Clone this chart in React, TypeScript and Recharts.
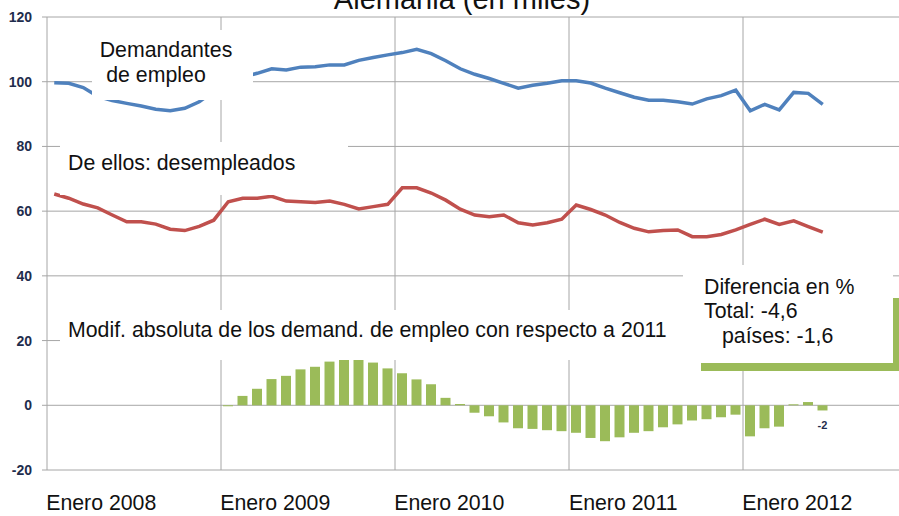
import {
  ComposedChart,
  Bar,
  Line,
  XAxis,
  YAxis,
  CartesianGrid,
  ReferenceLine,
  LabelList,
} from "recharts";

const anios = ["2008", "2009", "2010", "2011", "2012"];
const numMeses = ["01", "02", "03", "04", "05", "06", "07", "08", "09", "10", "11", "12"];

// Demandantes de empleo (en miles), ene 2008 - jun 2012
const demandantes = [
  99.7, 99.5, 98.2, 95.5, 94.2, 93.3, 92.5, 91.5, 91.0, 91.8,
  93.8, 97.0, 100.0, 101.5, 102.6, 104.0, 103.6, 104.5, 104.6, 105.2,
  105.2, 106.6, 107.5, 108.3, 109.0, 110.0, 108.7, 106.5, 104.0, 102.3,
  101.0, 99.5, 98.0, 98.9, 99.5, 100.3, 100.3, 99.6, 98.0, 96.6,
  95.2, 94.3, 94.3, 93.8, 93.1, 94.7, 95.7, 97.4, 91.0, 93.0,
  91.3, 96.7, 96.4, 93.0,
];

// De ellos: desempleados
const desempleados = [
  65.3, 64.0, 62.2, 61.0, 58.8, 56.7, 56.7, 56.0, 54.4, 54.0,
  55.3, 57.2, 62.9, 64.0, 64.0, 64.6, 63.1, 62.9, 62.7, 63.1,
  62.1, 60.7, 61.4, 62.1, 67.2, 67.2, 65.6, 63.4, 60.6, 58.8,
  58.3, 58.8, 56.4, 55.7, 56.4, 57.5, 61.9, 60.5, 58.8, 56.5,
  54.7, 53.6, 54.0, 54.2, 52.1, 52.1, 52.8, 54.2, 55.9, 57.5,
  55.9, 57.0, 55.2, 53.5,
];

// Modif. absoluta respecto al año anterior (desde ene 2009)
const modificacion: (number | null)[] = [
  null, null, null, null, null, null, null, null, null, null, null, null,
  -0.3, 2.9, 5.1, 8.1, 9.1, 11.1, 11.9, 13.5, 14.0, 14.2,
  13.2, 11.4, 9.9, 8.0, 6.5, 2.3, 0.4, -2.3, -3.4, -5.3,
  -7.1, -7.3, -7.7, -8.0, -8.5, -10.1, -11.1, -9.9, -8.5, -8.0,
  -6.8, -5.9, -4.7, -4.3, -3.7, -2.9, -9.6, -7.1, -6.6, 0.3,
  1.0, -1.6,
];

const barrasConEtiqueta = ["2012-06"];
const ticksY = [-20, 0, 20, 40, 60, 80, 100, 120];

const meses = anios.flatMap((a) => numMeses.map((m) => `${a}-${m}`));
const eneros = anios.map((a) => `${a}-01`);

const data = meses.map((mes, i) => ({
  mes,
  demandantes: demandantes[i] ?? null,
  desempleados: desempleados[i] ?? null,
  modificacion: modificacion[i] ?? null,
  etiqueta:
    barrasConEtiqueta.includes(mes) && modificacion[i] != null
      ? Math.round(modificacion[i] as number)
      : null,
}));

const FONT = '"Liberation Sans", Arial, sans-serif';
const GRID = "#a6a6a6";
const VERDE = "#9bbb59";
const TXT = 21.3;

const EneroTick = (props: any) => {
  const { x, payload } = props;
  return (
    <text x={x + 47} y={510} textAnchor="middle" fontSize={TXT} fill="#111" fontFamily={FONT}>
      {`Enero ${String(payload.value).slice(0, 4)}`}
    </text>
  );
};

const EtiquetaBarra = (props: any) => {
  const { x, y, width, height, value } = props;
  if (value == null) return null;
  const fondo = Math.max(y, y + height);
  return (
    <text
      x={x + width / 2}
      y={fondo + 19}
      textAnchor="middle"
      fontSize={11}
      fontWeight="bold"
      fill="#1f2d4d"
      fontFamily={FONT}
    >
      {value}
    </text>
  );
};

export default function App() {
  return (
    <div
      style={{
        position: "absolute",
        left: 0,
        top: 0,
        width: 899,
        height: 516,
        overflow: "hidden",
        background: "#fff",
        fontFamily: FONT,
      }}
    >
      <ComposedChart
        width={917}
        height={516}
        data={data}
        margin={{ top: 17, right: 0, left: 0, bottom: 0 }}
      >
        <CartesianGrid horizontal vertical={false} stroke={GRID} />
        <XAxis
          dataKey="mes"
          ticks={eneros}
          interval={0}
          height={46}
          axisLine={false}
          tickLine={false}
          tick={<EneroTick />}
        />
        <YAxis
          width={47}
          domain={[-20, 120]}
          ticks={ticksY}
          interval={0}
          axisLine={{ stroke: GRID }}
          tickLine={{ stroke: GRID }}
          tickSize={5}
          tickMargin={10}
          tick={{ fontSize: 14, fontWeight: "bold", fill: "#1f2d4d", fontFamily: FONT }}
        />
        {eneros.slice(1).map((m) => (
          <ReferenceLine key={m} x={m} position="start" stroke={GRID} />
        ))}
        <Bar dataKey="modificacion" fill={VERDE} barSize={10} isAnimationActive={false}>
          <LabelList dataKey="etiqueta" content={<EtiquetaBarra />} />
        </Bar>
        <Line
          type="linear"
          dataKey="demandantes"
          stroke="#4f81bd"
          strokeWidth={3.5}
          dot={false}
          isAnimationActive={false}
        />
        <Line
          type="linear"
          dataKey="desempleados"
          stroke="#c0504d"
          strokeWidth={3.5}
          dot={false}
          isAnimationActive={false}
        />
      </ComposedChart>

      <svg
        width={899}
        height={516}
        style={{ position: "absolute", left: 0, top: 0, pointerEvents: "none" }}
        fontFamily={FONT}
      >
        <text x={462} y={9} textAnchor="middle" fontSize={29} fill="#111">
          Alemania (en miles)
        </text>

        <rect x={92} y={30} width={161} height={70} fill="#fff" />
        <text x={166} y={57} textAnchor="middle" fontSize={TXT} fill="#111">
          Demandantes
        </text>
        <text x={156} y={82} textAnchor="middle" fontSize={TXT} fill="#111">
          de empleo
        </text>

        <rect x={60} y={142} width={288} height={53} fill="#fff" />
        <text x={68} y={170} fontSize={TXT} fill="#111">
          De ellos: desempleados
        </text>

        <rect x={60} y={310} width={625} height={50} fill="#fff" />
        <text x={68} y={337} fontSize={TXT} fill="#111">
          Modif. absoluta de los demand. de empleo con respecto a 2011
        </text>

        <rect x={683} y={265} width={210} height={98} fill="#fff" />
        <text x={704} y={294} fontSize={TXT} fill="#111">
          Diferencia en %
        </text>
        <text x={704} y={318} fontSize={TXT} fill="#111">
          Total: -4,6
        </text>
        <text x={722} y={343} fontSize={TXT} fill="#111">
          países: -1,6
        </text>
        <rect x={893} y={298} width={6} height={73} fill={VERDE} />
        <rect x={701} y={363} width={198} height={8} fill={VERDE} />
      </svg>
    </div>
  );
}
